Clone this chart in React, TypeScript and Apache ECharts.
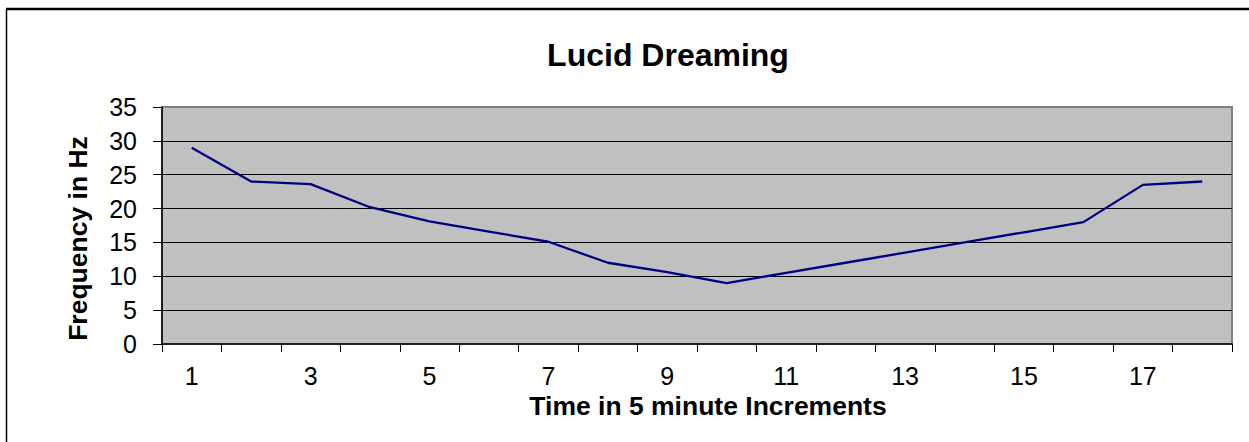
import React, { useEffect, useRef } from "react";
import * as echarts from "echarts";

const titleText = "Lucid Dreaming";
const xAxisName = "Time in 5 minute Increments";
const yAxisName = "Frequency in Hz";
const categories = ["1", "2", "3", "4", "5", "6", "7", "8", "9", "10", "11", "12", "13", "14", "15", "16", "17", "18"];
const frequency = [29, 24, 23.6, 20.2, 18.1, 16.6, 15.1, 12, 10.6, 9, 10.5, 12, 13.5, 15, 16.5, 18, 23.5, 24];
const yMin = 0;
const yMax = 35;
const yInterval = 5;

const FONT = "'Liberation Sans', Arial, sans-serif";

export default function App() {
  const ref = useRef<HTMLDivElement>(null);

  useEffect(() => {
    document.body.style.margin = "0";
    if (!ref.current) return;
    const chart = echarts.init(ref.current, undefined, { renderer: "svg" });
    chart.setOption({
      animation: false,
      backgroundColor: "#ffffff",
      title: {
        text: titleText,
        left: 663,
        top: 34,
        textAlign: "center",
        textStyle: { fontFamily: FONT, fontSize: 32, fontWeight: "bold", color: "#000" },
      },
      graphic: [
        { type: "line", shape: { x1: 6, y1: 9, x2: 1249, y2: 9 }, style: { stroke: "#000", lineWidth: 2.5 } },
        { type: "line", shape: { x1: 6.5, y1: 9, x2: 6.5, y2: 442 }, style: { stroke: "#000", lineWidth: 1.5 } },
      ],
      grid: {
        left: 162,
        right: 17,
        top: 107,
        bottom: 98,
        show: true,
        backgroundColor: "#c0c0c0",
        borderColor: "#808080",
        borderWidth: 2,
        containLabel: false,
      },
      xAxis: {
        type: "category",
        data: categories,
        boundaryGap: true,
        name: xAxisName,
        nameLocation: "middle",
        nameGap: 37,
        nameTextStyle: { fontFamily: FONT, fontSize: 26.5, fontWeight: "bold", color: "#000", padding: [0, 0, 0, 22] },
        axisLine: { show: true, lineStyle: { color: "#000", width: 1.5 } },
        axisTick: { show: true, interval: 0, length: 8, lineStyle: { color: "#000", width: 1 } },
        axisLabel: { interval: 1, margin: 19, fontFamily: FONT, fontSize: 25, color: "#000" },
        splitLine: { show: false },
      },
      yAxis: {
        type: "value",
        min: yMin,
        max: yMax,
        interval: yInterval,
        name: yAxisName,
        nameLocation: "middle",
        nameGap: 71,
        nameTextStyle: { fontFamily: FONT, fontSize: 26.5, fontWeight: "bold", color: "#000", padding: [0, 26, 0, 0] },
        axisLine: { show: true, lineStyle: { color: "#000", width: 1.5 } },
        axisTick: { show: true, length: 9, lineStyle: { color: "#000", width: 1 } },
        axisLabel: { margin: 25, fontFamily: FONT, fontSize: 25, color: "#000" },
        splitLine: { show: true, showMinLine: false, showMaxLine: false, lineStyle: { color: "#000", width: 1 } },
      },
      series: [
        {
          type: "line",
          data: frequency,
          symbol: "none",
          smooth: false,
          lineStyle: { color: "#000080", width: 2.3 },
          itemStyle: { color: "#000080" },
        },
      ],
    });
    return () => chart.dispose();
  }, []);

  return <div ref={ref} style={{ width: 1249, height: 442 }} />;
}
